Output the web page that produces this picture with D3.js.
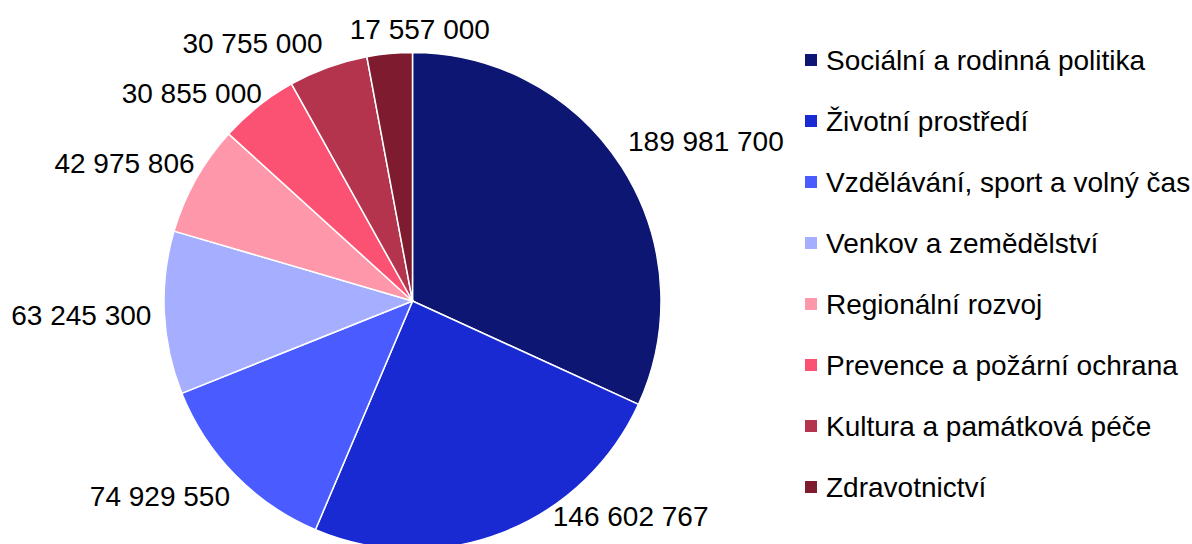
<html>
<head>
<meta charset="utf-8">
<script src="https://d3js.org/d3.v7.min.js"></script>
<style>
  body { margin: 0; background: #fff; }
  svg text {
    font-family: Arial, "Liberation Sans", sans-serif;
    font-size: 28px;
    fill: #000;
  }
</style>
</head>
<body>
<svg width="1192" height="544"></svg>
<script>
// data
var categories = [
  "Sociální a rodinná politika",
  "Životní prostředí",
  "Vzdělávání, sport a volný čas",
  "Venkov a zemědělství",
  "Regionální rozvoj",
  "Prevence a požární ochrana",
  "Kultura a památková péče",
  "Zdravotnictví"
];
var values = [189981700, 146602767, 74929550, 63245300, 42975806, 30855000, 30755000, 17557000];
var colors = ["#0d1673", "#1a2ad2", "#4a5bff", "#a5aeff", "#ff97aa", "#fb5273", "#b3344c", "#7f1b2e"];

// label nudges (px) where labels were moved apart / kept inside the frame
var labelNudge = [[7, -11], [95, -43], [-15, 2], [1, 1], [2, -3], [-14, 9], [-47, 2], [38, 3]];

var width = 1192, height = 544;
var cx = 412.5, cy = 301, r = 248.5;

var svg = d3.select("svg");

var fmt = function (v) {
  return d3.format(",")(v).replace(/,/g, " ");
};

var pie = d3.pie().sort(null).value(function (d) { return d; });
var arcs = pie(values);
var arc = d3.arc().innerRadius(0).outerRadius(r);

var g = svg.append("g").attr("transform", "translate(" + cx + "," + cy + ")");

g.selectAll("path")
  .data(arcs)
  .enter()
  .append("path")
  .attr("d", arc)
  .attr("fill", function (d, i) { return colors[i]; })
  .attr("stroke", "#fff")
  .attr("stroke-width", 1.5);

// outside-end labels
var labels = g.selectAll("text.lbl")
  .data(arcs)
  .enter()
  .append("text")
  .attr("class", "lbl")
  .attr("text-anchor", "middle")
  .text(function (d) { return fmt(d.value); });

labels.each(function (d, i) {
  var w = this.getComputedTextLength();
  var h = 28;
  var a = (d.startAngle + d.endAngle) / 2;
  var ux = Math.sin(a), uy = -Math.cos(a);
  var R = r + 14;
  var x = R * ux + ux * w / 2 + labelNudge[i][0];
  var y = R * uy + uy * h / 2 + labelNudge[i][1];
  d3.select(this).attr("x", x).attr("y", y + 10);
});

// legend
var legend = svg.append("g").attr("transform", "translate(805,60)");
var rows = legend.selectAll("g")
  .data(categories)
  .enter()
  .append("g")
  .attr("transform", function (d, i) { return "translate(0," + i * 61 + ")"; });

rows.append("rect")
  .attr("x", 0)
  .attr("y", -6)
  .attr("width", 12)
  .attr("height", 12)
  .attr("fill", function (d, i) { return colors[i]; });

rows.append("text")
  .attr("x", 21)
  .attr("y", 10)
  .text(function (d) { return d; });
</script>
</body>
</html>
